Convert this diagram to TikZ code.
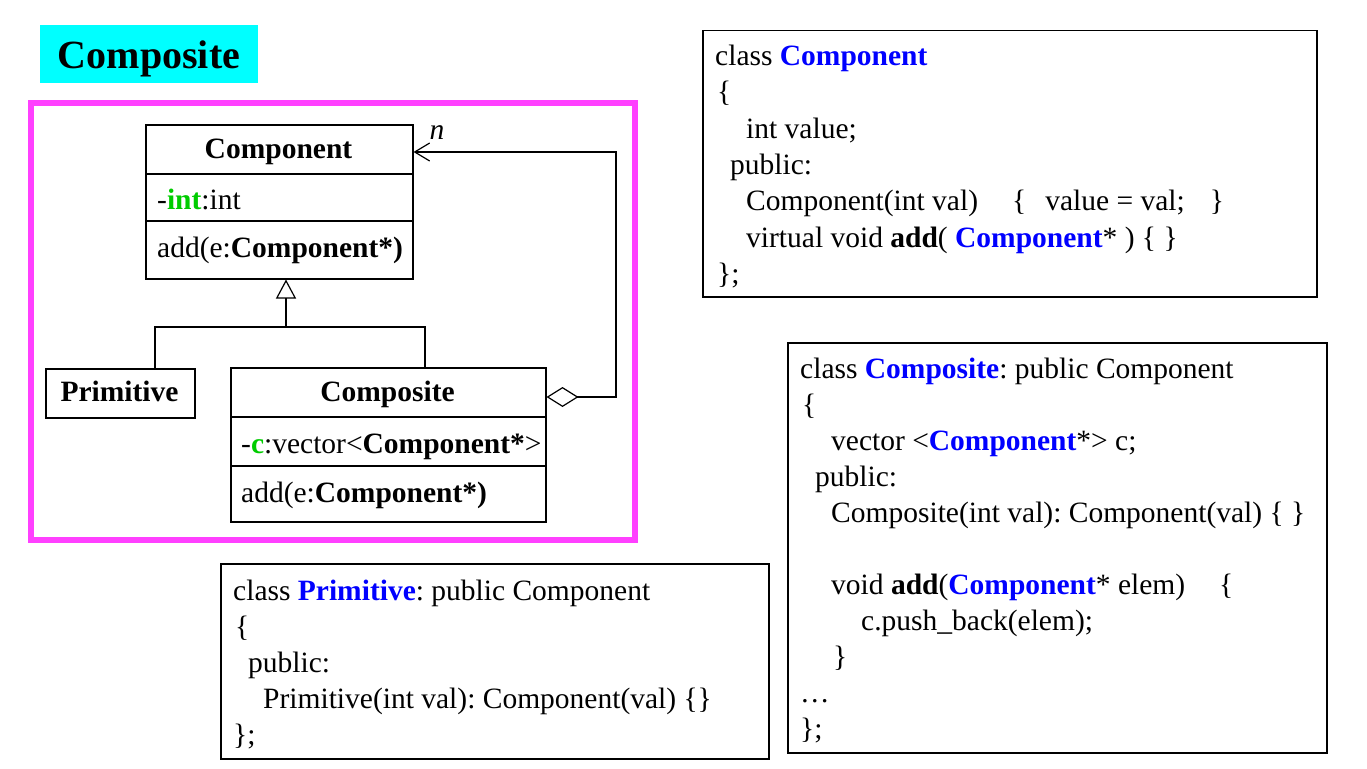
\documentclass[tikz,border=0pt]{standalone}
\usepackage{fontspec}
\setmainfont{Liberation Serif}
\usetikzlibrary{arrows.meta}
\definecolor{kwblue}{RGB}{0,0,255}
\definecolor{kwgreen}{RGB}{0,204,0}
\definecolor{framepink}{RGB}{255,64,255}
\definecolor{titlecyan}{RGB}{0,255,255}
\newcommand{\bigf}{\fontsize{29.5pt}{36pt}\selectfont\frenchspacing}
\newcommand{\bb}[1]{\textbf{\color{kwblue}#1}}
\newcommand{\gb}[1]{\textbf{\color{kwgreen}#1}}
\begin{document}
\frenchspacing
\begin{tikzpicture}[x=1pt,y=-1pt,
  umlbox/.style={draw, line width=1.5pt, inner sep=0pt, anchor=north west},
  codebox/.style={draw, line width=1.5pt, inner sep=0pt, anchor=north west},
  sep/.style={line width=1.5pt},
  txt/.style={anchor=base west, inner sep=0pt, font=\bigf},
  ctxt/.style={anchor=base, inner sep=0pt, font=\bigf\bfseries},
  conn/.style={line width=1.2pt}]
\useasboundingbox (0,0) rectangle (1367,768);

% title
\node[fill=titlecyan, inner sep=0pt, anchor=north west, minimum width=218pt, minimum height=58pt] (titlebox) at (40,25) {};
\node[anchor=base, inner sep=0pt, font=\fontsize{40pt}{44pt}\selectfont\bfseries] (titletext) at (149,69) {Composite};

% magenta frame
\draw[framepink, line width=6pt] (31,103) rectangle (635,540);

% Component class
\node[umlbox, minimum width=267pt, minimum height=154pt] (comp) at (145,124) {};
\draw[sep] (145,174) -- (412,174);
\draw[sep] (145,221) -- (412,221);
\node[ctxt] (compname) at (278.5,158.5) {Component};
\node[txt] (compattr) at (157,209.5) {-\gb{int}:int};
\node[txt] (compop) at (157,257.5) {add(e:\textbf{Component*)}};

% Primitive class
\node[umlbox, minimum width=149pt, minimum height=49pt] (prim) at (45,368) {};
\node[ctxt] (primname) at (119.5,401) {Primitive};

% Composite class
\node[umlbox, minimum width=315pt, minimum height=154pt] (compo) at (230,367) {};
\draw[sep] (230,417) -- (545,417);
\draw[sep] (230,466) -- (545,466);
\node[ctxt] (componame) at (387.5,401) {Composite};
\node[txt] (compoattr) at (241,453.5) {-\gb{c}:vector<\textbf{Component*}>};
\node[txt] (compoop) at (241,502.5) {add(e:\textbf{Component*)}};

% inheritance
\coordinate (j) at (286,327);
\coordinate (pj) at (155,327);
\coordinate (cj) at (425,327);
\draw[conn, -{Triangle[open, length=19pt, width=20pt]}] (j) -- (j |- comp.south);
\draw[conn] (pj |- prim.north) -- (pj) -- (cj) -- (cj |- compo.north);

% aggregation
\coordinate (a1) at (616,397);
\coordinate (a2) at (616,152);
\draw[conn, {Diamond[open, length=32pt, width=20pt]}-{Straight Barb[length=15pt, width=18pt]}] (compo.east |- a1) -- (a1) -- (a2) -- (comp.east |- a2);
\node[inner sep=0pt, font=\bigf\itshape] (mult) at (437,133) {n};

% code box 1
\node[codebox, minimum width=614pt, minimum height=266pt] (code1) at (702,30) {};
\node[txt] (c1a) at (715,65.5) {class \bb{Component}};
\node[txt] (c1b) at (717,101.8) {\{};
\node[txt] (c1c) at (746,138.1) {int value;};
\node[txt] (c1d) at (730,174.4) {public:};
\node[txt] (c1e) at (746,210.7) {Component(int val)\hspace{34pt}\{\hspace{19pt}value = val;\hspace{25pt}\}};
\node[txt] (c1f) at (746,247) {virtual void \textbf{add}( \bb{Component}* ) \{ \}};
\node[txt] (c1g) at (717,283.3) {\};};

% code box 2
\node[codebox, minimum width=539pt, minimum height=410pt] (code2) at (787,342) {};
\node[txt] (c2a) at (800,378) {class \bb{Composite}: public Component};
\node[txt] (c2b) at (802,414) {\{};
\node[txt] (c2c) at (831,450) {vector <\bb{Component}*> c;};
\node[txt] (c2d) at (815,486) {public:};
\node[txt] (c2e) at (831,522) {Composite(int val): Component(val) \{ \}};
\node[txt] (c2f) at (831,594) {void \textbf{add}(\bb{Component}* elem)\hspace{34pt}\{};
\node[txt] (c2g) at (861,630) {c.push\_back(elem);};
\node[txt] (c2h) at (833,666) {\}};
\node[txt] (c2i) at (800,702) {…};
\node[txt] (c2j) at (800,738) {\};};

% code box 3
\node[codebox, minimum width=548pt, minimum height=195pt] (code3) at (220,563) {};
\node[txt] (c3a) at (233,600) {class \bb{Primitive}: public Component};
\node[txt] (c3b) at (235,636) {\{};
\node[txt] (c3c) at (248,672) {public:};
\node[txt] (c3d) at (263,708) {Primitive(int val): Component(val) \{\}};
\node[txt] (c3e) at (233,744) {\};};
\end{tikzpicture}
\end{document}
